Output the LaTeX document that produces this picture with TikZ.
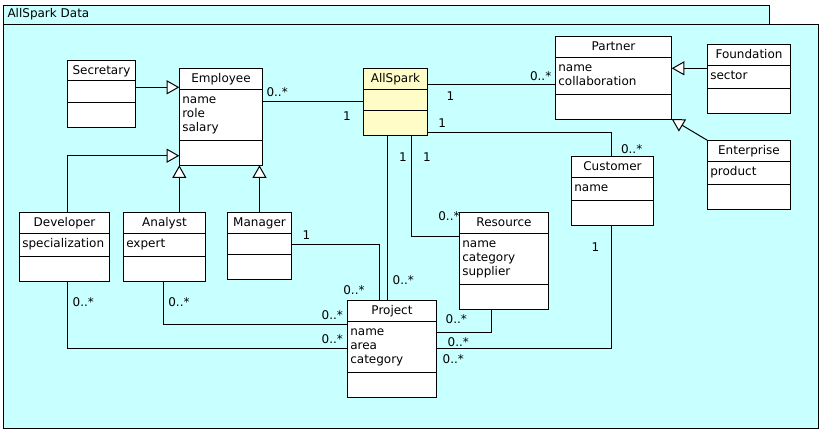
\documentclass[tikz,border=0pt]{standalone}
\usepackage{fontspec}
\setmainfont{DejaVu Sans}
\usetikzlibrary{arrows.meta}
\definecolor{pkgcyan}{RGB}{200,255,255}
\definecolor{mainyellow}{RGB}{255,252,200}
\def\clsfill{white}
\newcommand{\umlcls}[9]{%
  \node[clsbox, fill=\clsfill, minimum width={(#4-#2)*1pt}, minimum height={(#5-#3)*1pt}, anchor=north west] (#1) at (#2,#3) {};
  \draw[boxline] (#2,#6) -- (#4,#6) (#2,#7) -- (#4,#7);
  \node[txt, anchor=base] (#1-t) at ({(#2+#4)/2},{#3+14.4}) {#8};
  \foreach \a [count=\i] in {#9} {\node[txt, anchor=base west] (#1-a\i) at ({#2+3},{#6+14*\i}) {\a};}
}
\begin{document}
\begin{tikzpicture}[x=1pt,y=-1pt,
  font=\fontsize{12}{14}\selectfont,
  clsbox/.style={draw=black, line width=1pt, inner sep=0pt, outer sep=0pt},
  boxline/.style={line width=1pt},
  txt/.style={inner sep=0pt, outer sep=0pt},
  assoc/.style={line width=1pt},
  gen/.style={line width=1pt, -{Triangle[length=12.6pt,width=14pt,fill=white]}},
  mult/.style={inner sep=0pt, outer sep=0pt, anchor=base west}]
\useasboundingbox (0,0) rectangle (826,433);
% package
\node[draw=black, line width=1pt, fill=pkgcyan, inner sep=0pt, anchor=north west, minimum width=766pt, minimum height=19.3pt] (tab) at (3.3,4.7) {};
\node[draw=black, line width=1pt, fill=pkgcyan, inner sep=0pt, anchor=north west, minimum width=815pt, minimum height=403.7pt] (pkg) at (3.3,24) {};
\node[txt, anchor=base west] (pkgname) at (7.5,17.7) {AllSpark Data};
% classes
\umlcls{sec}{67.3}{60.3}{135.7}{127.3}{81}{102.3}{Secretary}{{}}
\umlcls{emp}{179.3}{68.3}{262.7}{165.3}{89.3}{140.3}{Employee}{name,role,salary}
\def\clsfill{mainyellow}
\umlcls{all}{363.3}{68.3}{427.7}{135.3}{89.3}{110.3}{AllSpark}{{}}
\def\clsfill{white}
\umlcls{par}{555.3}{36.3}{671.7}{119}{57.3}{94.3}{Partner}{name,collaboration}
\umlcls{fou}{707.3}{44.3}{790.7}{113.3}{65.3}{88.3}{Foundation}{sector}
\umlcls{ent}{707.3}{140.3}{790.7}{209.3}{161.7}{184.3}{Enterprise}{product}
\umlcls{cus}{571.3}{156}{653.7}{225.3}{177.3}{200.7}{Customer}{name}
\umlcls{dev}{19.3}{212.3}{109.7}{281.3}{233.3}{256.3}{Developer}{specialization}
\umlcls{ana}{123.3}{212.3}{205.7}{281.3}{233.3}{256.3}{Analyst}{expert}
\umlcls{man}{227.3}{212.3}{291.7}{279.3}{233.3}{254.3}{Manager}{{}}
\umlcls{pro}{347.3}{300.3}{436.7}{397.3}{321.3}{372.3}{Project}{name,area,category}
\umlcls{res}{459.3}{212.3}{548.7}{309.3}{233.3}{284.3}{Resource}{name,category,supplier}
% waypoints
\coordinate (w1) at (150,87.3);
\coordinate (c1) at (67.3,155.7);
\coordinate (w2) at (300,101.3);
\coordinate (w3) at (500,84.3);
\coordinate (c2) at (611.3,132.3);
\coordinate (w4) at (690,68.3);
\coordinate (w5) at (387.3,200);
\coordinate (c3) at (411.3,236);
\coordinate (c4) at (379.3,244);
\coordinate (c5) at (163.3,324.3);
\coordinate (c6) at (67.3,348.3);
\coordinate (c7) at (491.3,332.3);
\coordinate (c8) at (611.3,348.3);
% generalizations
\draw[gen] (sec.east |- w1) -- (emp.west |- w1);
\draw[gen] (dev.north -| c1) -- (c1) -- (emp.west |- c1);
\draw[gen] (ana.north -| emp.south west) -- (emp.south west);
\draw[gen] (man.north) -- (man.north |- emp.south);
\draw[gen] (fou.west |- w4) -- (par.east |- w4);
\draw[gen] (ent.north west) -- (par.south east);
% associations
\draw[assoc] (emp.east |- w2) -- (all.west |- w2);
\draw[assoc] (all.east |- w3) -- (par.west |- w3);
\draw[assoc] (all.east |- c2) -- (c2) -- (cus.north -| c2);
\draw[assoc] (all.south -| w5) -- (pro.north -| w5);
\draw[assoc] (all.south -| c3) -- (c3) -- (res.west |- c3);
\draw[assoc] (man.east |- c4) -- (c4) -- (pro.north -| c4);
\draw[assoc] (ana.south -| c5) -- (c5) -- (pro.west |- c5);
\draw[assoc] (dev.south -| c6) -- (c6) -- (pro.west |- c6);
\draw[assoc] (res.south -| c7) -- (c7) -- (pro.east |- c7);
\draw[assoc] (cus.south -| c8) -- (c8) -- (pro.east |- c8);
% multiplicities
\node[mult] (m1) at (266.5,96.5) {0..*};
\node[mult] (m2) at (343,120.5) {1};
\node[mult] (m3) at (530,80.7) {0..*};
\node[mult] (m4) at (446.7,100.7) {1};
\node[mult] (m5) at (438.3,127.7) {1};
\node[mult] (m6) at (621,153) {0..*};
\node[mult] (m7) at (399,161.7) {1};
\node[mult] (m8) at (392.7,284) {0..*};
\node[mult] (m9) at (423,161.7) {1};
\node[mult] (m10) at (438.3,220.5) {0..*};
\node[mult] (m11) at (302.7,239.3) {1};
\node[mult] (m12) at (343.3,294) {0..*};
\node[mult] (m13) at (168.3,306.7) {0..*};
\node[mult] (m14) at (321.7,319.3) {0..*};
\node[mult] (m15) at (72.7,306.7) {0..*};
\node[mult] (m16) at (321.7,343.3) {0..*};
\node[mult] (m17) at (445.7,323.3) {0..*};
\node[mult] (m18) at (591.7,251.7) {1};
\node[mult] (m19) at (447.7,346.7) {0..*};
\node[mult] (m20) at (442.7,363.3) {0..*};
\end{tikzpicture}
\end{document}
